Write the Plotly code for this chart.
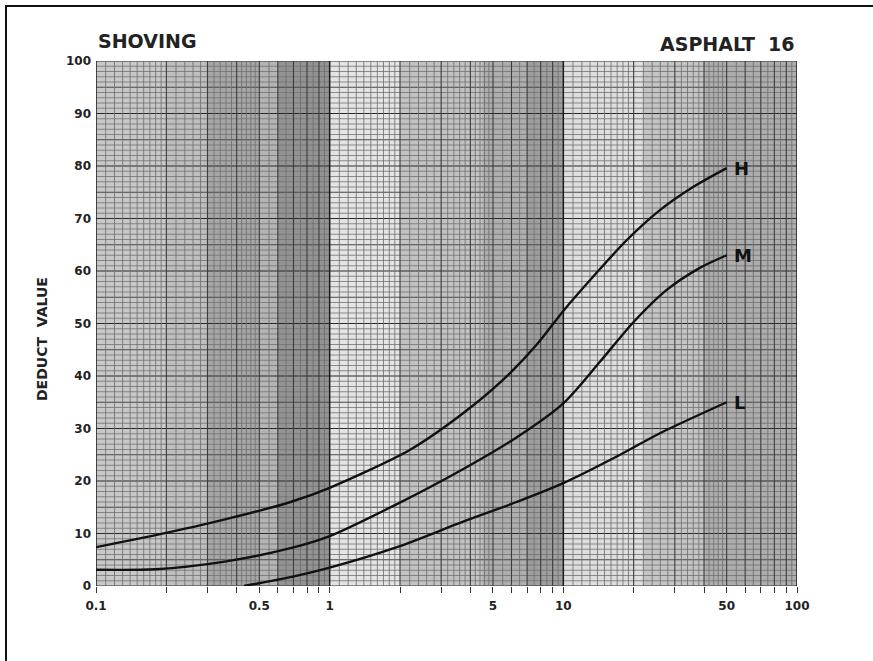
import plotly.graph_objects as go
import numpy as np

# ---- data ----
H_x = [0.1, 0.18, 0.35, 0.68, 1.0, 2.2, 3.7, 5.5, 7.7, 10, 13.4, 18.7, 25.9, 35.9, 50]
H_y = [7.4, 9.7, 12.6, 16.0, 18.7, 25.9, 32.8, 39.2, 46.0, 52.4, 58.9, 65.9, 71.6, 76.0, 79.6]
M_x = [0.1, 0.18, 0.35, 0.68, 1.0, 1.94, 3.7, 6.3, 10, 14.4, 19.9, 27.7, 38.4, 50]
M_y = [3.1, 3.2, 4.6, 7.2, 9.5, 15.6, 22.2, 28.3, 34.8, 42.8, 50.2, 56.4, 60.6, 63.0]
L_x = [0.43, 0.68, 1.0, 1.94, 3.7, 6.3, 10, 17.5, 25.9, 50]
L_y = [0.0, 1.7, 3.5, 7.4, 12.2, 16.0, 19.6, 25.0, 29.1, 35.0]
series_names = ["H", "M", "L"]

x_tick_vals = [0.1, 0.2, 0.3, 0.4, 0.5, 0.6, 0.7, 0.8, 0.9,
               1, 2, 3, 4, 5, 6, 7, 8, 9,
               10, 20, 30, 40, 50, 60, 70, 80, 90, 100]
x_labeled = {0.1: "0.1", 0.5: "0.5", 1: "1", 5: "5", 10: "10", 50: "50", 100: "100"}
y_tick_vals = list(range(0, 101, 10))

title_left = "SHOVING"
title_right = "ASPHALT\u00a0\u00a016"
y_title = "DEDUCT\u00a0\u00a0VALUE"

FONT = "DejaVu Sans, Verdana, sans-serif"

fig = go.Figure()

for name, xs, ys in zip(series_names, [H_x, M_x, L_x], [H_y, M_y, L_y]):
    fig.add_trace(go.Scatter(x=xs, y=ys, mode="lines", name=name,
                             line=dict(color="#111111", width=2.4, shape="spline", smoothing=0.8),
                             showlegend=False, hoverinfo="skip"))
    fig.add_annotation(x=np.log10(xs[-1]), y=ys[-1], xref="x", yref="y", text="<b>%s</b>" % name,
                       showarrow=False, xanchor="left", yanchor="middle", xshift=5,
                       font=dict(family=FONT, size=18, color="#111111"))

shapes = []
# scanned-paper shading bands
bands = [(0.1, 0.2, "#c8c8c8"), (0.2, 0.3, "#bebebe"), (0.3, 0.5, "#a6a6a6"),
         (0.5, 0.6, "#b4b4b4"), (0.6, 1.0, "#939393"), (1.0, 2.0, "#e4e4e4"),
         (2.0, 4.5, "#c2c2c2"), (4.5, 7.0, "#aeaeae"), (7.0, 10.0, "#9e9e9e"),
         (10.0, 22.0, "#dedede"), (22.0, 40.0, "#c4c4c4"), (40.0, 100.0, "#adadad")]
for a, b, c in bands:
    shapes.append(dict(type="rect", xref="x", yref="y", x0=a, x1=b,
                       y0=0, y1=100, fillcolor=c, line=dict(width=0), layer="below"))

# horizontal grid
for v in range(0, 101):
    if v % 10 == 0:
        col, w = "#2a2a2a", 1.2
    elif v % 5 == 0:
        col, w = "#4a4a4a", 1.0
    else:
        col, w = "#727272", 0.8
    shapes.append(dict(type="line", xref="x", yref="y", x0=0.1, x1=100, y0=v, y1=v,
                       line=dict(color=col, width=w), layer="below"))

# vertical log grid (semi-log paper subdivisions)
subdiv = list(np.arange(1.0, 2.0, 0.1)) + list(np.arange(2.0, 5.0, 0.2)) + list(np.arange(5.0, 10.0, 0.5))
for dec in [0.1, 1, 10]:
    for k in subdiv:
        kr = round(k, 3)
        val = dec * kr
        if abs(kr - 1.0) < 1e-9:
            col, w = "#1a1a1a", 1.5
        elif abs(kr - round(kr)) < 1e-9:
            col, w = "#3c3c3c", 1.1
        else:
            col, w = "#6c6c6c", 0.8
        shapes.append(dict(type="line", xref="x", yref="y", x0=val, x1=val,
                           y0=0, y1=100, line=dict(color=col, width=w), layer="below"))
shapes.append(dict(type="line", xref="x", yref="y", x0=100, x1=100, y0=0, y1=100,
                   line=dict(color="#1a1a1a", width=1.5), layer="below"))

# outer frame of the scanned page
L0, R0, T0, B0 = 96, 797, 61, 586
pw, ph = R0 - L0, B0 - T0
shapes.append(dict(type="rect", xref="paper", yref="paper",
                   x0=(6 - L0) / pw, x1=(880 - L0) / pw,
                   y0=(B0 - 668) / ph, y1=(B0 - 6) / ph,
                   line=dict(color="#111111", width=2), fillcolor="rgba(0,0,0,0)"))

fig.update_layout(shapes=shapes)

fig.add_annotation(x=0, y=(B0 - 41) / ph, xref="paper", yref="paper", text="<b>%s</b>" % title_left,
                   showarrow=False, xanchor="left", yanchor="middle",
                   font=dict(family=FONT, size=19, color="#222222"))
fig.add_annotation(x=1, y=(B0 - 44) / ph, xref="paper", yref="paper", text="<b>%s</b>" % title_right,
                   showarrow=False, xanchor="right", yanchor="middle",
                   font=dict(family=FONT, size=19, color="#222222"))
fig.add_annotation(x=(42 - L0) / pw, y=(B0 - 339) / ph, xref="paper", yref="paper",
                   text="<b>%s</b>" % y_title, textangle=-90,
                   showarrow=False, xanchor="center", yanchor="middle",
                   font=dict(family=FONT, size=14, color="#222222"))

fig.update_xaxes(type="log", range=[-1, 2], tickvals=x_tick_vals,
                 ticktext=[x_labeled.get(v, "") for v in x_tick_vals],
                 ticks="outside", ticklen=6, tickwidth=1, tickcolor="#333333",
                 showgrid=False, zeroline=False, showline=False,
                 tickfont=dict(family=FONT, size=12, color="#222222", weight="bold"),
                 ticklabelstandoff=3)
fig.update_yaxes(range=[0, 100], tickvals=y_tick_vals, ticks="", showgrid=False,
                 zeroline=False, showline=False,
                 tickfont=dict(family=FONT, size=12, color="#222222", weight="bold"),
                 ticklabelstandoff=4)

fig.update_layout(width=873, height=661, margin=dict(l=L0, r=873 - R0, t=T0, b=661 - B0),
                  paper_bgcolor="white", plot_bgcolor="#d0d0d0")

fig.write_html("out.html")
